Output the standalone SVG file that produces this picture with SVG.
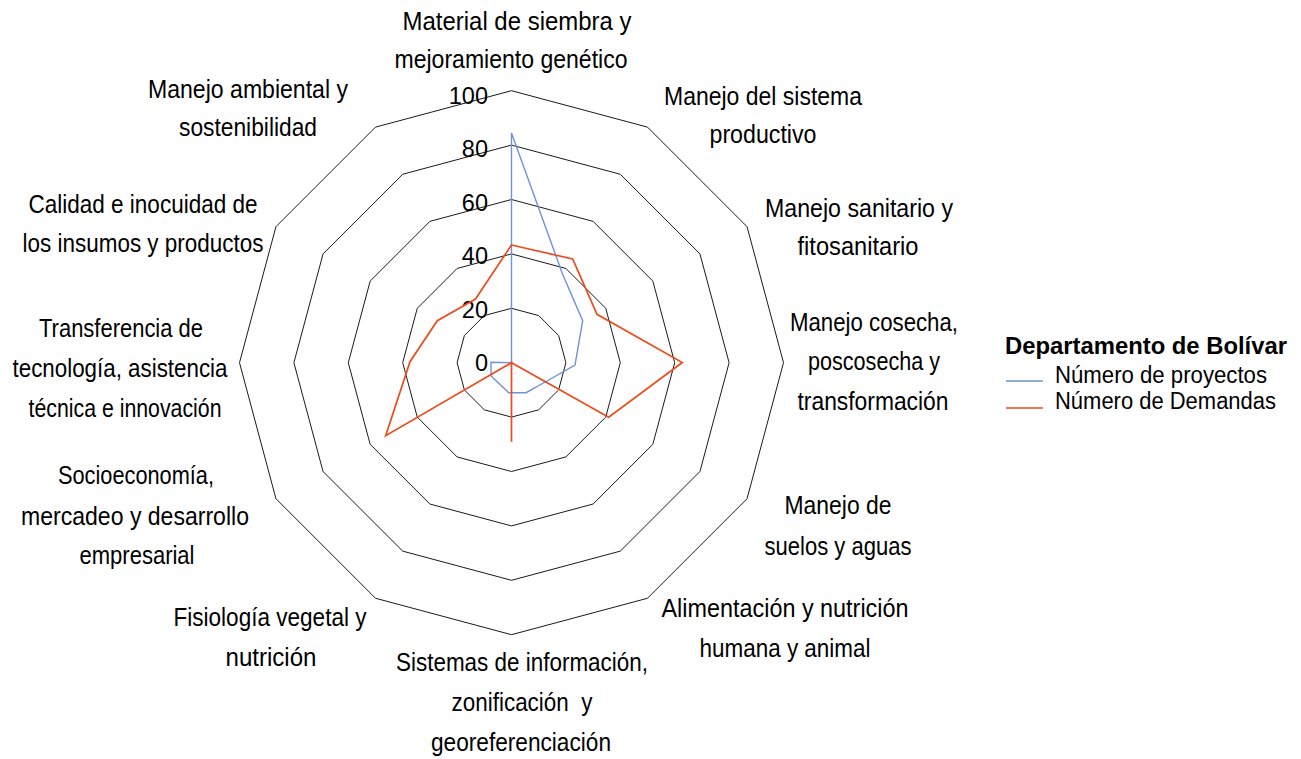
<svg xmlns="http://www.w3.org/2000/svg" width="1301" height="759" viewBox="0 0 1301 759">
<style>
.ring{fill:none;stroke:#1a1a1a;stroke-width:1}
.lbl{font-family:"Liberation Sans",Arial,sans-serif;font-size:25px;fill:#000;text-anchor:middle}
.tick{font-family:"Liberation Sans",Arial,sans-serif;font-size:23.5px;fill:#000;text-anchor:end}
.leg{font-family:"Liberation Sans",Arial,sans-serif;font-size:23.5px;fill:#000}
.legb{font-family:"Liberation Sans",Arial,sans-serif;font-size:24px;font-weight:bold;fill:#000}
.blue{fill:none;stroke:#6F92D8;stroke-width:1.4;stroke-linejoin:miter}
.orange{fill:none;stroke:#EE4B1C;stroke-width:1.7;stroke-linejoin:miter}
</style>
<rect width="1301" height="759" fill="#fff"/>
<g id="grid">
<polygon class="ring" points="511.5,90.7 647.5,127.14 747.06,226.7 783.5,362.7 747.06,498.7 647.5,598.26 511.5,634.7 375.5,598.26 275.94,498.7 239.5,362.7 275.94,226.7 375.5,127.14"/>
<polygon class="ring" points="511.5,145.1 620.3,174.26 699.94,253.9 729.1,362.7 699.94,471.5 620.3,551.14 511.5,580.3 402.7,551.14 323.06,471.5 293.9,362.7 323.06,253.9 402.7,174.26"/>
<polygon class="ring" points="511.5,199.5 593.1,221.37 652.83,281.1 674.7,362.7 652.83,444.3 593.1,504.03 511.5,525.9 429.9,504.03 370.17,444.3 348.3,362.7 370.17,281.1 429.9,221.37"/>
<polygon class="ring" points="511.5,253.9 565.9,268.48 605.72,308.3 620.3,362.7 605.72,417.1 565.9,456.92 511.5,471.5 457.1,456.92 417.28,417.1 402.7,362.7 417.28,308.3 457.1,268.48"/>
<polygon class="ring" points="511.5,308.3 538.7,315.59 558.61,335.5 565.9,362.7 558.61,389.9 538.7,409.81 511.5,417.1 484.3,409.81 464.39,389.9 457.1,362.7 464.39,335.5 484.3,315.59"/>
</g>
<g id="ticks">
<text class="tick" x="488" y="104">100</text>
<text class="tick" x="488" y="157">80</text>
<text class="tick" x="488" y="211">60</text>
<text class="tick" x="488" y="264">40</text>
<text class="tick" x="488" y="318">20</text>
<text class="tick" x="488" y="371">0</text>
</g>
<g id="connectors">
<polygon id="series-proyectos" class="blue" points="511.5,362.7 511.5,133 562.5,274 582.7,320.7 575,365 545.2,382 526,392.7 508.8,392.7 491,376 491,362.3"/>
<polygon id="series-demandas" class="orange" points="511.5,245 572.7,259 597,314.3 682.3,362.5 608.7,417.3 511.5,362.7 511.5,441.7 511.5,362.7 385.7,435.7 410,361.7 437.3,320.7 475.5,299"/>
</g>
<g id="axis-0"><text class="lbl" x="517" y="30" textLength="229" lengthAdjust="spacingAndGlyphs">Material de siembra y</text><text class="lbl" x="511" y="68" textLength="233" lengthAdjust="spacingAndGlyphs">mejoramiento genético</text></g>
<g id="axis-1"><text class="lbl" x="763" y="105" textLength="198" lengthAdjust="spacingAndGlyphs">Manejo del sistema</text><text class="lbl" x="763" y="143" textLength="107" lengthAdjust="spacingAndGlyphs">productivo</text></g>
<g id="axis-2"><text class="lbl" x="859" y="217" textLength="188" lengthAdjust="spacingAndGlyphs">Manejo sanitario y</text><text class="lbl" x="858" y="255" textLength="121" lengthAdjust="spacingAndGlyphs">fitosanitario</text></g>
<g id="axis-3"><text class="lbl" x="874" y="331" textLength="168" lengthAdjust="spacingAndGlyphs">Manejo cosecha,</text><text class="lbl" x="874" y="370" textLength="132" lengthAdjust="spacingAndGlyphs">poscosecha y</text><text class="lbl" x="873" y="410" textLength="151" lengthAdjust="spacingAndGlyphs">transformación</text></g>
<g id="axis-4"><text class="lbl" x="838" y="514" textLength="107" lengthAdjust="spacingAndGlyphs">Manejo de</text><text class="lbl" x="838" y="555" textLength="147" lengthAdjust="spacingAndGlyphs">suelos y aguas</text></g>
<g id="axis-5"><text class="lbl" x="785" y="617" textLength="247" lengthAdjust="spacingAndGlyphs">Alimentación y nutrición</text><text class="lbl" x="785" y="657" textLength="171" lengthAdjust="spacingAndGlyphs">humana y animal</text></g>
<g id="axis-6"><text class="lbl" x="522" y="671" textLength="252" lengthAdjust="spacingAndGlyphs">Sistemas de información,</text><text class="lbl" x="522" y="711" textLength="141" lengthAdjust="spacingAndGlyphs" xml:space="preserve">zonificación  y</text><text class="lbl" x="521" y="751" textLength="180" lengthAdjust="spacingAndGlyphs">georeferenciación</text></g>
<g id="axis-7"><text class="lbl" x="270" y="626" textLength="193" lengthAdjust="spacingAndGlyphs">Fisiología vegetal y</text><text class="lbl" x="271" y="666" textLength="91" lengthAdjust="spacingAndGlyphs">nutrición</text></g>
<g id="axis-8"><text class="lbl" x="136" y="484" textLength="156" lengthAdjust="spacingAndGlyphs">Socioeconomía,</text><text class="lbl" x="135" y="525" textLength="228" lengthAdjust="spacingAndGlyphs">mercadeo y desarrollo</text><text class="lbl" x="137" y="564" textLength="115" lengthAdjust="spacingAndGlyphs">empresarial</text></g>
<g id="axis-9"><text class="lbl" x="121" y="337" textLength="164" lengthAdjust="spacingAndGlyphs">Transferencia de</text><text class="lbl" x="120" y="377" textLength="215" lengthAdjust="spacingAndGlyphs">tecnología, asistencia</text><text class="lbl" x="125" y="417" textLength="193" lengthAdjust="spacingAndGlyphs">técnica e innovación</text></g>
<g id="axis-10"><text class="lbl" x="143" y="213" textLength="229" lengthAdjust="spacingAndGlyphs">Calidad e inocuidad de</text><text class="lbl" x="143" y="252" textLength="241" lengthAdjust="spacingAndGlyphs">los insumos y productos</text></g>
<g id="axis-11"><text class="lbl" x="248" y="98" textLength="200" lengthAdjust="spacingAndGlyphs">Manejo ambiental y</text><text class="lbl" x="248" y="136" textLength="138" lengthAdjust="spacingAndGlyphs">sostenibilidad</text></g>
<g id="legend">
<text class="legb" x="1005" y="354" textLength="282" lengthAdjust="spacingAndGlyphs">Departamento de Bolívar</text>
<line x1="1006" y1="381" x2="1043" y2="381" stroke="#6F92D8" stroke-width="1.4"/>
<text class="leg" x="1055" y="383" textLength="212" lengthAdjust="spacingAndGlyphs">Número de proyectos</text>
<line x1="1006" y1="408" x2="1043" y2="408" stroke="#EE4B1C" stroke-width="1.7"/>
<text class="leg" x="1055" y="409" textLength="221" lengthAdjust="spacingAndGlyphs">Número de Demandas</text>
</g>
</svg>
